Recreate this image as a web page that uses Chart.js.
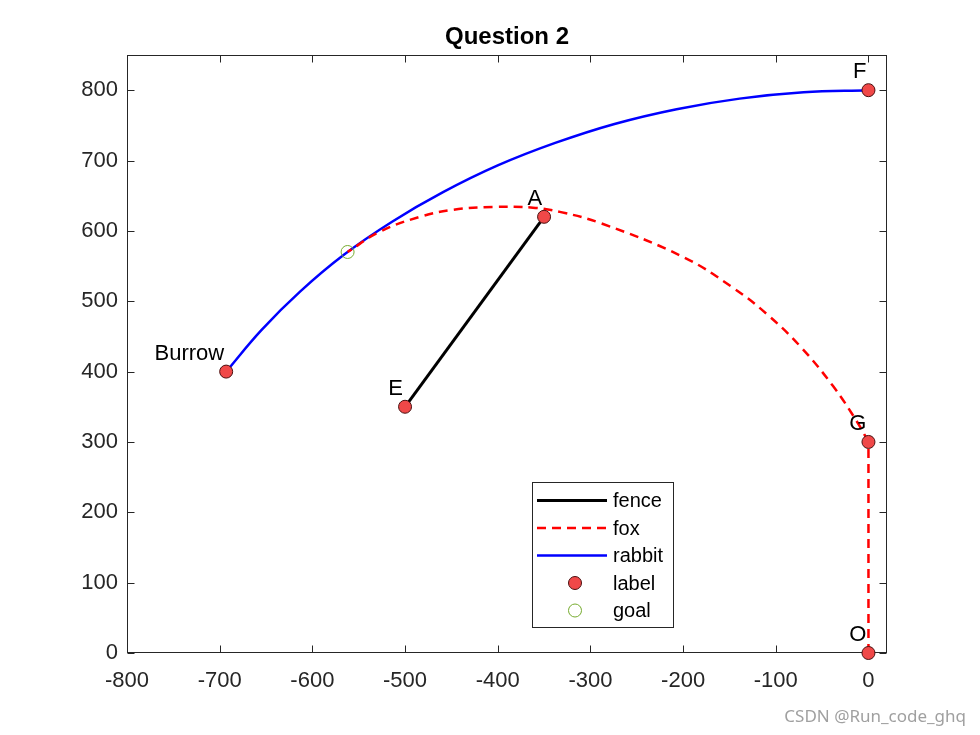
<!DOCTYPE html>
<html><head><meta charset="utf-8">
<script src="https://cdn.jsdelivr.net/npm/chart.js@4"></script>
<style>html,body{margin:0;padding:0;background:#fff}</style>
</head><body>
<canvas id="c" width="980" height="735" style="width:980px;height:735px;display:block"></canvas>
<script>
// ---- data ----
const xTicks = [-800, -700, -600, -500, -400, -300, -200, -100, 0];
const yTicks = [0, 100, 200, 300, 400, 500, 600, 700, 800];
const xRange = [-800, 20];
const yRange = [0, 850];

const fenceX = [-500, -350];
const fenceY = [350, 620];

const foxLegX = [0, 0];
const foxLegY = [0, 300];
const foxArcX = [0, -12, -38, -73, -109, -146, -200, -289, -333, -362, -405, -448, -484, -527, -562];
const foxArcY = [300, 328, 379, 435, 481, 519, 563, 611, 627, 633, 634, 630, 620, 599, 570];

const rabbitX = [0, -70, -139, -207, -274, -338, -400, -459, -514, -566, -613, -655, -693];
const rabbitY = [800, 797, 788, 773, 752, 725, 693, 655, 613, 566, 514, 459, 400];

const labelNames = ['F', 'A', 'E', 'G', 'O', 'Burrow'];
const labelX = [0, -350, -500, 0, 0, -693];
const labelY = [800, 620, 350, 300, 0, 400];

const goalX = [-562];
const goalY = [570];

const seriesNames = ['fence', 'fox', 'rabbit', 'label', 'goal'];

// ---- helpers ----
const pts = (xs, ys) => xs.map((v, i) => ({x: v, y: ys[i]}));
const FONT = '"Liberation Sans", Arial, sans-serif';
const AX = '#262626';
const RED = '#f04848';
const MK_EDGE = '#4a1010';
const GOAL = '#77ac30';
const FOX = '#ff0000';
const RABBIT = '#0000ff';

const deco = {
  id: 'deco',
  beforeDatasetsDraw(chart) {
    const {ctx, chartArea: a, scales: {x, y}} = chart;
    ctx.save();
    ctx.strokeStyle = AX; ctx.lineWidth = 1;
    const L = Math.round(a.left) + 0.5, R = Math.round(a.right) - 0.5;
    const T = Math.round(a.top) + 0.5, B = Math.round(a.bottom) - 0.5;
    ctx.strokeRect(L, T, R - L, B - T);
    const tl = 7;
    ctx.beginPath();
    xTicks.forEach(v => {
      const px = Math.round(x.getPixelForValue(v)) + 0.5;
      ctx.moveTo(px, B); ctx.lineTo(px, B - tl);
      ctx.moveTo(px, T); ctx.lineTo(px, T + tl);
    });
    yTicks.forEach(v => {
      const py = Math.round(y.getPixelForValue(v)) + 0.5;
      ctx.moveTo(L, py); ctx.lineTo(L + tl, py);
      ctx.moveTo(R, py); ctx.lineTo(R - tl, py);
    });
    ctx.stroke();
    ctx.restore();
  },
  afterDraw(chart) {
    const {ctx, chartArea: a, scales: {x, y}} = chart;
    ctx.save();
    // title
    ctx.fillStyle = '#000';
    ctx.font = 'bold 24px ' + FONT;
    ctx.textAlign = 'center'; ctx.textBaseline = 'middle';
    ctx.fillText('Question 2', (a.left + a.right) / 2, 37);
    // point labels
    ctx.font = '22px ' + FONT;
    ctx.textAlign = 'right'; ctx.textBaseline = 'alphabetic';
    labelNames.forEach((n, i) => {
      const px = x.getPixelForValue(labelX[i]);
      const py = y.getPixelForValue(labelY[i]);
      ctx.fillText(n, px - 2, py - 12);
    });
    // legend
    const bx = 532, by = 482, bw = 141, bh = 145;
    ctx.fillStyle = '#fff';
    ctx.fillRect(bx, by, bw, bh);
    ctx.strokeStyle = AX; ctx.lineWidth = 1;
    ctx.strokeRect(bx + 0.5, by + 0.5, bw, bh);
    const rows = [500.5, 528, 555.5, 583, 610.5];
    const x0 = 537, x1 = 607, xm = 575, xt = 613;
    // fence
    ctx.setLineDash([]);
    ctx.strokeStyle = '#000'; ctx.lineWidth = 3;
    ctx.beginPath(); ctx.moveTo(x0, rows[0]); ctx.lineTo(x1, rows[0]); ctx.stroke();
    // fox
    ctx.strokeStyle = FOX; ctx.lineWidth = 2.5; ctx.setLineDash([9, 6]);
    ctx.beginPath(); ctx.moveTo(x0, rows[1]); ctx.lineTo(x1, rows[1]); ctx.stroke();
    ctx.setLineDash([]);
    // rabbit
    ctx.strokeStyle = RABBIT; ctx.lineWidth = 2.5;
    ctx.beginPath(); ctx.moveTo(x0, rows[2]); ctx.lineTo(x1, rows[2]); ctx.stroke();
    // label marker
    ctx.fillStyle = RED; ctx.strokeStyle = MK_EDGE; ctx.lineWidth = 1;
    ctx.beginPath(); ctx.arc(xm, rows[3], 6.5, 0, Math.PI * 2); ctx.fill(); ctx.stroke();
    // goal marker
    ctx.strokeStyle = GOAL;
    ctx.beginPath(); ctx.arc(xm, rows[4], 6.5, 0, Math.PI * 2); ctx.stroke();
    // legend text
    ctx.fillStyle = '#000';
    ctx.font = '20px ' + FONT;
    ctx.textAlign = 'left'; ctx.textBaseline = 'middle';
    seriesNames.forEach((n, i) => ctx.fillText(n, xt, rows[i] + 1));
    // watermark
    ctx.fillStyle = '#a0a0a0';
    ctx.font = '17px "Noto Sans", sans-serif';
    ctx.textAlign = 'right';
    ctx.fillText('CSDN @Run_code_ghq', 966, 717);
    ctx.restore();
  }
};

new Chart(document.getElementById('c'), {
  type: 'scatter',
  data: {
    datasets: [
      {label: seriesNames[3], data: pts(labelX, labelY), pointRadius: 6.5, pointBackgroundColor: RED,
       pointBorderColor: MK_EDGE, pointBorderWidth: 1, showLine: false, order: 0, clip: false},
      {label: seriesNames[4], data: pts(goalX, goalY), pointRadius: 6.5, pointBackgroundColor: 'rgba(0,0,0,0)',
       pointBorderColor: GOAL, pointBorderWidth: 1, showLine: false, order: 1, clip: false},
      {label: seriesNames[2], data: pts(rabbitX, rabbitY), showLine: true, borderColor: RABBIT, borderWidth: 2.5,
       pointRadius: 0, tension: 0.4, order: 3, clip: false},
      {label: seriesNames[1], data: pts(foxArcX, foxArcY), showLine: true, borderColor: FOX, borderWidth: 2.5,
       borderDash: [9, 6], pointRadius: 0, tension: 0.4, order: 2, clip: false},
      {label: seriesNames[1], data: pts(foxLegX, foxLegY), showLine: true, borderColor: FOX, borderWidth: 2.5,
       borderDash: [9, 6], pointRadius: 0, tension: 0, order: 2, clip: false},
      {label: seriesNames[0], data: pts(fenceX, fenceY), showLine: true, borderColor: '#000', borderWidth: 3,
       pointRadius: 0, tension: 0, order: 4, clip: false}
    ]
  },
  options: {
    responsive: false,
    animation: false,
    devicePixelRatio: 1,
    layout: {padding: {left: 0, right: 93, top: 55, bottom: 0}},
    plugins: {legend: {display: false}, title: {display: false}, tooltip: {enabled: false}},
    scales: {
      x: {
        type: 'linear', min: xRange[0], max: xRange[1],
        grid: {display: false}, border: {display: false},
        afterBuildTicks: s => { s.ticks = xTicks.map(v => ({value: v})); },
        afterFit: s => { s.height = 82; },
        ticks: {autoSkip: false, maxRotation: 0, padding: 7, color: AX, font: {family: FONT, size: 22}}
      },
      y: {
        type: 'linear', min: yRange[0], max: yRange[1],
        grid: {display: false}, border: {display: false},
        afterBuildTicks: s => { s.ticks = yTicks.map(v => ({value: v})); },
        afterFit: s => { s.width = 127; },
        ticks: {autoSkip: false, padding: 1, color: AX, font: {family: FONT, size: 22}}
      }
    }
  },
  plugins: [deco]
});
</script>
</body></html>
